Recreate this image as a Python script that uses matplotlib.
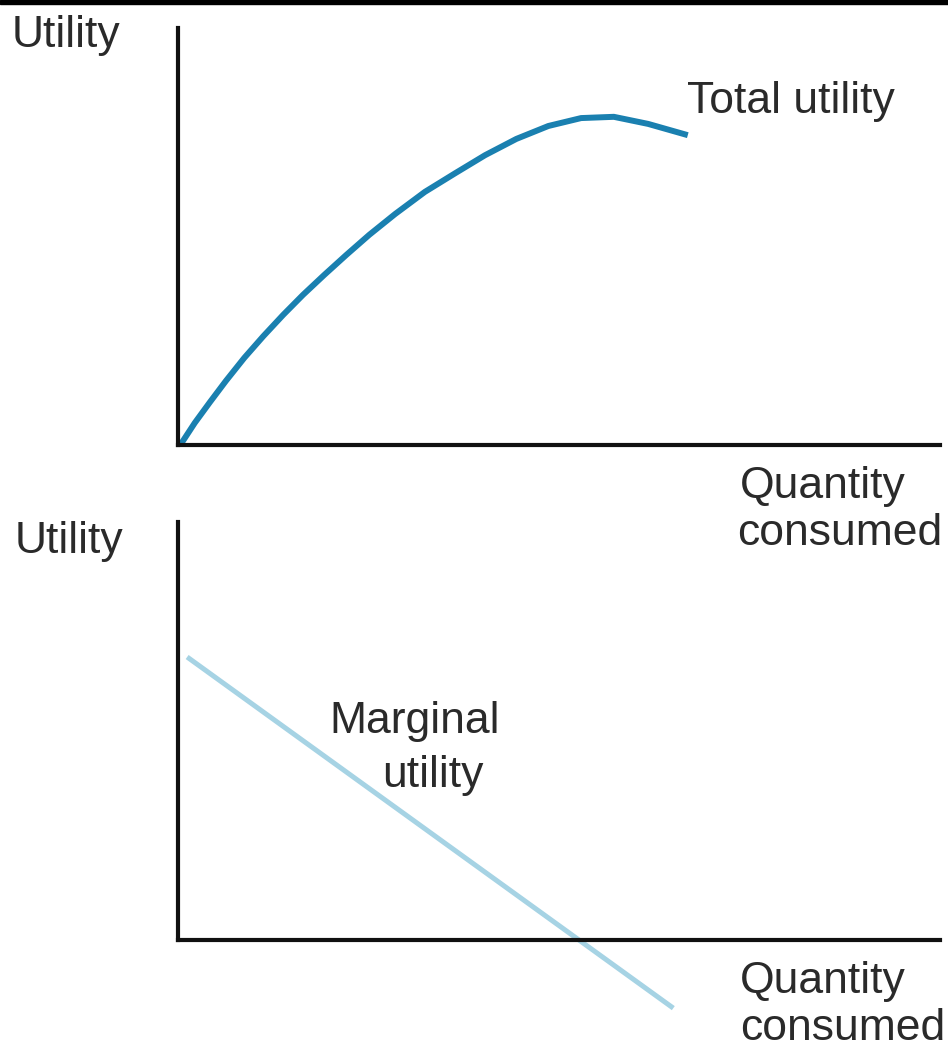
import matplotlib
matplotlib.use("Agg")
import matplotlib.pyplot as plt
from matplotlib.patches import Rectangle

plt.rcParams['font.family'] = ['Liberation Sans', 'DejaVu Sans']

# Total utility curve (top panel), quantity vs utility in arbitrary units
tu_quantity = [0.03, 0.22, 0.42, 0.63, 0.87, 1.12, 1.38, 1.64, 1.92, 2.21, 2.51,
               2.85, 3.24, 3.64, 4.03, 4.44, 4.86, 5.29, 5.72, 6.17, 6.69]
tu_utility = [0, 0.53, 1.03, 1.54, 2.09, 2.61, 3.12, 3.60, 4.08, 4.56, 5.04,
              5.54, 6.07, 6.52, 6.95, 7.34, 7.65, 7.84, 7.87, 7.70, 7.43]

# Marginal utility line (bottom panel)
mu_quantity = [0.12, 6.5]
mu_utility = [6.77, -1.63]

W, H = 948, 1048
TEXT_COLOR = "#2a2a2a"
FS = 32


def fx(px):
    return px / W


def fy(py):
    return 1 - py / H


def style_axes(ax):
    for side in ["top", "right"]:
        ax.spines[side].set_visible(False)
    for side in ["left", "bottom"]:
        ax.spines[side].set_linewidth(3.0)
        ax.spines[side].set_color("#111111")
    ax.set_xticks([])
    ax.set_yticks([])
    ax.set_xlim(0, 10)
    ax.set_ylim(0, 10)
    ax.patch.set_alpha(0)


fig = plt.figure(figsize=(W / 100, H / 100), dpi=100)

# top border line
fig.patches.append(Rectangle((0, fy(4)), 1, 4 / H, transform=fig.transFigure,
                             color="black", zorder=5))

ax_top = fig.add_axes([fx(178), fy(445), fx(940) - fx(178), fy(28) - fy(445)])
style_axes(ax_top)
ax_top.plot(tu_quantity, tu_utility, color="#1a80b0", lw=4.3,
            solid_joinstyle="round", solid_capstyle="butt", clip_on=False)

ax_bot = fig.add_axes([fx(178), fy(940), fx(940) - fx(178), fy(522) - fy(940)])
style_axes(ax_bot)
ax_bot.plot(mu_quantity, mu_utility, color="#a6d3e4", lw=3.6,
            solid_capstyle="butt", clip_on=False, zorder=1)


# labels
def label(x, y, s, ha="left"):
    fig.text(fx(x), fy(y), s, fontsize=FS, color=TEXT_COLOR, ha=ha, va="baseline")


label(12, 47, "Utility")
label(687, 113, "Total utility")
label(740, 498, "Quantity")
label(737, 545, "consumed")

label(15, 553, "Utility")
label(415, 733, "Marginal", ha="center")
label(433, 787, "utility", ha="center")
label(740, 993, "Quantity")
label(740, 1040, "consumed")

fig.savefig("out.png", dpi=100)
